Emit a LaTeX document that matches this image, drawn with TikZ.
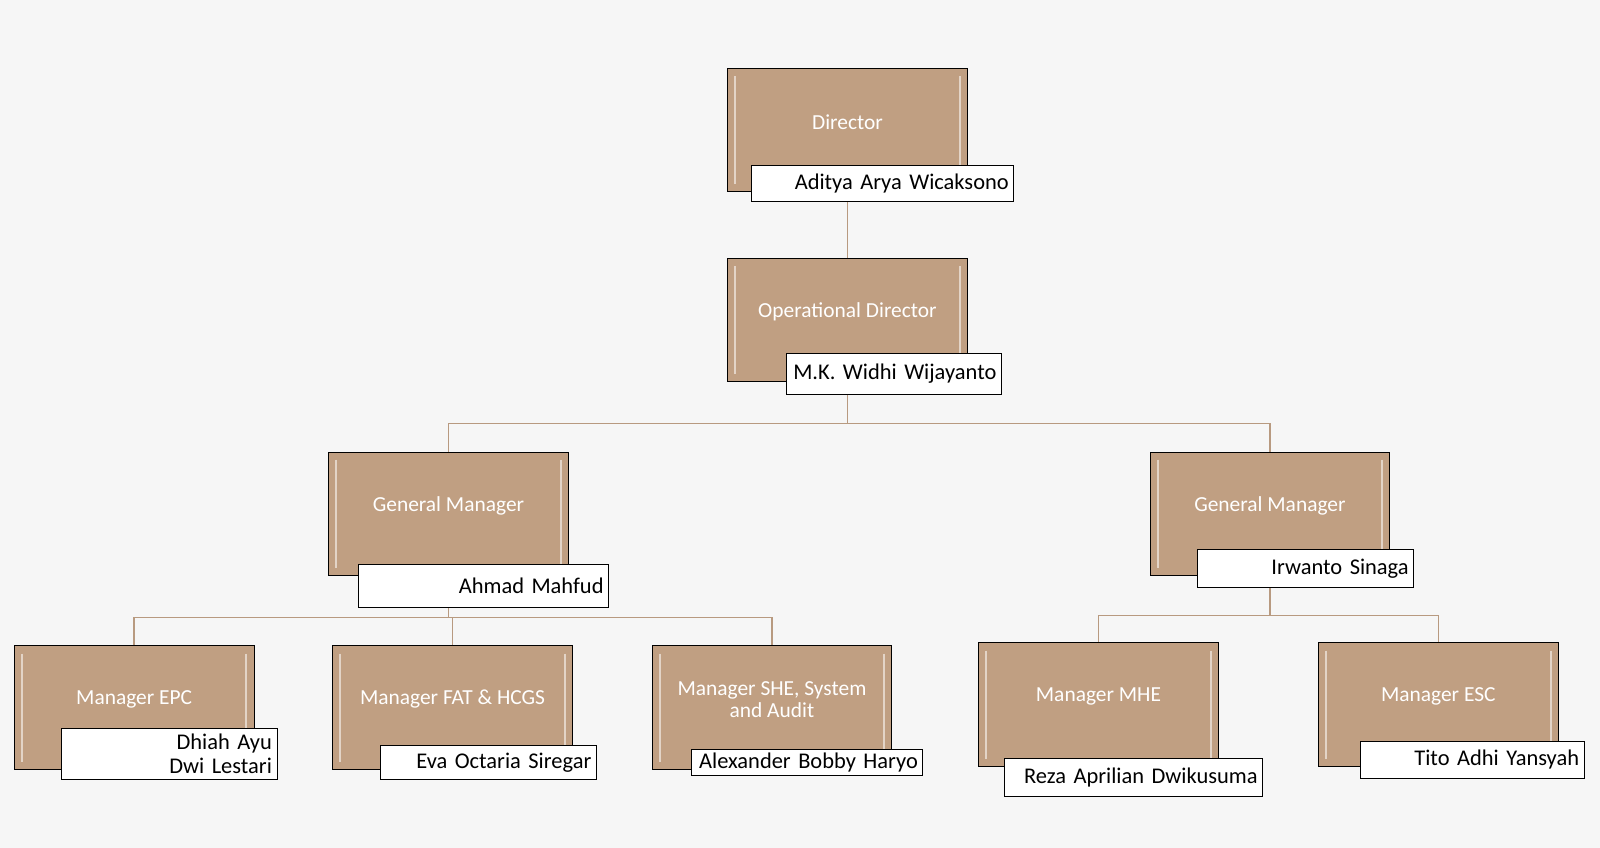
\documentclass[tikz,border=0pt]{standalone}
\usepackage{fontspec}
\setmainfont{Carlito}
\definecolor{tan}{HTML}{C09F82}
\definecolor{linetan}{HTML}{B89A80}
\definecolor{bg}{HTML}{F6F6F6}
\tikzset{
  rolebox/.style={draw=black, fill=tan, minimum width=235pt, minimum height=121pt, line width=1pt},
  roletext/.style={text=white, font=\fontsize{21}{22}\selectfont, align=center, yshift=8pt},
  namebox/.style={draw=black, fill=white, minimum height=35pt, inner sep=5pt,
    align=right, font=\fontsize{22}{24}\selectfont, anchor=south east, line width=1pt},
  link/.style={draw=linetan, line width=1.5pt},
}
\newcommand{\bevel}[1]{%
  \draw[tan!45!white, line width=2pt] ([shift={(8pt,-8pt)}]#1.north west) -- ([shift={(8pt,8pt)}]#1.south west);
  \draw[tan!45!white, line width=2pt] ([shift={(-8pt,-8pt)}]#1.north east) -- ([shift={(-8pt,8pt)}]#1.south east);}
\begin{document}
\begin{tikzpicture}[x=1pt,y=-1pt]
\useasboundingbox[fill=bg] (0,0) rectangle (1568,831);

% role boxes
\node[rolebox, label={[roletext]center:Director}] (dir) at (830.5,127.5) {};
\node[rolebox, label={[roletext]center:Operational Director}] (opdir) at (830.5,313.5) {};
\node[rolebox, label={[roletext]center:General Manager}] (gml) at (439.5,503.5) {};
\node[rolebox, label={[roletext]center:General Manager}] (gmr) at (1244.5,503.5) {};
\node[rolebox, label={[roletext]center:Manager EPC}] (epc) at (131.5,693.5) {};
\node[rolebox, label={[roletext]center:Manager FAT \& HCGS}] (fat) at (443.5,693.5) {};
\node[rolebox, label={[roletext]center:Manager SHE, System\\and Audit}] (she) at (756.5,693.5) {};
\node[rolebox, label={[roletext]center:Manager MHE}] (mhe) at (1076.5,690.5) {};
\node[rolebox, label={[roletext]center:Manager ESC}] (esc) at (1409.5,690.5) {};
\foreach \b in {dir,opdir,gml,gmr,epc,fat,she,mhe,esc} {\bevel{\b}}

% name boxes
\node[namebox, text width=247pt] (ndir) at (994,198) {Aditya Arya Wicaksono};
\node[namebox, text width=201pt, minimum height=40pt] (nopdir) at (982,387) {M.K. Widhi Wijayanto};
\node[namebox, text width=235pt, minimum height=42pt] (ngml) at (597,596) {Ahmad Mahfud};
\node[namebox, text width=202pt, minimum height=37pt] (ngmr) at (1386,576) {Irwanto Sinaga};
\node[namebox, text width=201pt, minimum height=33pt] (nepc) at (272,764) {Dhiah Ayu Dwi Lestari};
\node[namebox, text width=202pt, minimum height=33pt] (nfat) at (585,764) {Eva Octaria Siregar};
\node[namebox, text width=217pt, minimum height=25pt, inner ysep=1pt] (nshe) at (905,760) {Alexander Bobby Haryo};
\node[namebox, text width=243pt, minimum height=37pt] (nmhe) at (1238,781) {Reza Aprilian Dwikusuma};
\node[namebox, text width=209pt, minimum height=36pt] (nesc) at (1553,763) {Tito Adhi Yansyah};

% connectors
\coordinate (j1) at (830.5,415);
\coordinate (j2) at (439.5,605);
\coordinate (j3) at (1244.5,603);
\draw[link] (ndir.south -| dir) -- (opdir.north);
\draw[link] (nopdir.south -| opdir) -- (j1) -| (gml.north);
\draw[link] (j1) -| (gmr.north);
\draw[link] (ngml.south -| gml) -- (j2) -| (epc.north);
\draw[link] (j2) -| (she.north);
\draw[link] (j2 -| fat) -- (fat.north);
\draw[link] (ngmr.south -| gmr) -- (j3) -| (mhe.north);
\draw[link] (j3) -| (esc.north);
\end{tikzpicture}
\end{document}
